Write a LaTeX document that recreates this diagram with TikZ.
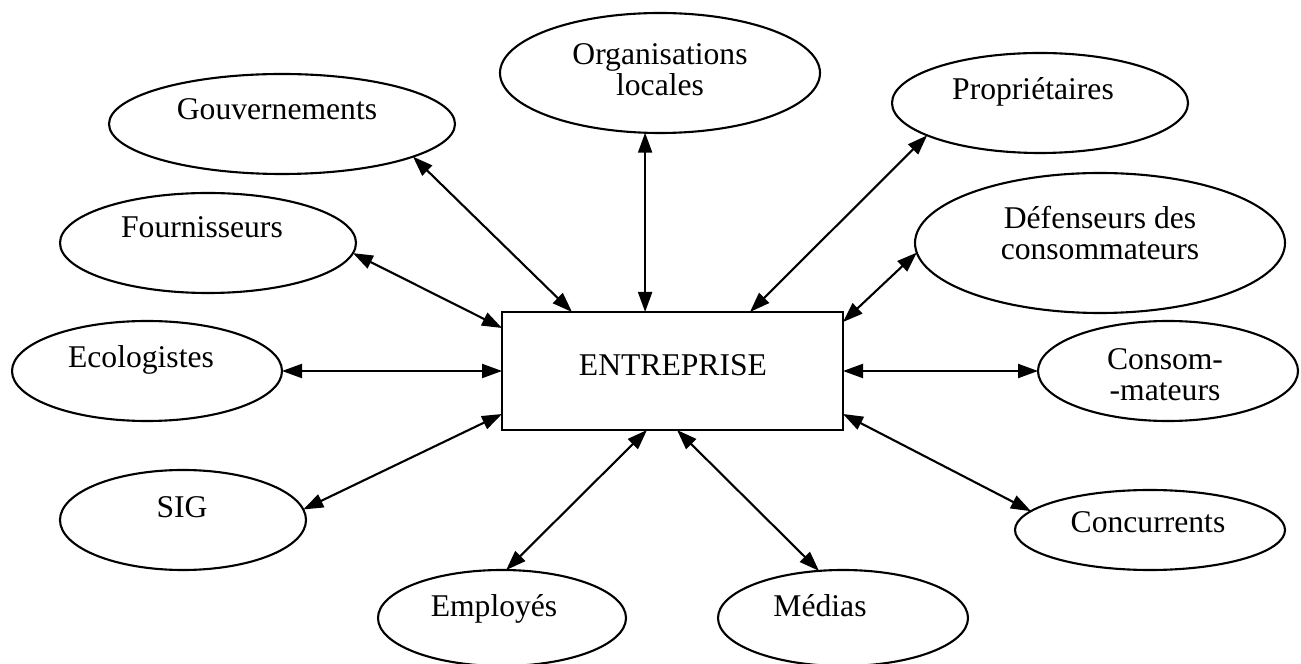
\documentclass[tikz,border=0pt]{standalone}
\usepackage{fontspec}
\setmainfont{Liberation Serif}
\usetikzlibrary{shapes.geometric, arrows.meta, calc}

\begin{document}
\begin{tikzpicture}[x=0.2mm, y=-0.2mm,
  party/.style={draw, ellipse, line width=1.2pt, inner sep=0pt, outer sep=0pt},
  word/.style={font=\fontsize{18}{17.5}\selectfont, align=center, inner sep=0pt},
  link/.style={{Triangle[length=4mm,width=2.8mm]}-{Triangle[length=4mm,width=2.8mm]}, line width=1.2pt}]
\useasboundingbox (0,0) rectangle (1301,664);

% the firm
\node[draw, rectangle, line width=1.2pt, outer sep=0pt, minimum width=6.82cm, minimum height=2.36cm] (firm) at (672.5,371) {};
\node[word, anchor=base] (firm-t) at (673,376) {ENTREPRISE};

% stakeholders
\node[party, minimum width=6.92cm, minimum height=2cm] (gouv) at (282,124) {};
\node[party, minimum width=5.92cm, minimum height=2cm] (fourn) at (208,243) {};
\node[party, minimum width=6.4cm, minimum height=2.4cm] (org) at (660,73) {};
\node[party, minimum width=5.92cm, minimum height=2cm] (prop) at (1040,103) {};
\node[party, minimum width=7.4cm, minimum height=2.8cm] (def) at (1100,243) {};
\node[party, minimum width=5.4cm, minimum height=2cm] (eco) at (147,371) {};
\node[party, minimum width=5.2cm, minimum height=2cm] (consom) at (1168,371) {};
\node[party, minimum width=4.92cm, minimum height=2cm] (sig) at (183,520) {};
\node[party, minimum width=5.4cm, minimum height=1.6cm] (conc) at (1150,530) {};
\node[party, minimum width=4.96cm, minimum height=1.92cm] (emp) at (502,618) {};
\node[party, minimum width=5cm, minimum height=1.92cm] (med) at (843,618) {};

% their names
\node[word, anchor=base] (gouv-t) at (277,120) {Gouvernements};
\node[word, anchor=base] (fourn-t) at (202,238) {Fournisseurs};
\node[word] (org-t) at (660,70) {Organisations\\locales};
\node[word, anchor=base] (prop-t) at (1033,100) {Propriétaires};
\node[word] (def-t) at (1100,233) {Défenseurs des\\consommateurs};
\node[word, anchor=base] (eco-t) at (141,368) {Ecologistes};
\node[word] (consom-t) at (1165,375) {Consom-\\-mateurs};
\node[word, anchor=base] (sig-t) at (182,518) {SIG};
\node[word, anchor=base] (conc-t) at (1148,533) {Concurrents};
\node[word, anchor=base] (emp-t) at (494,616) {Employés};
\node[word, anchor=base] (med-t) at (820,616) {Médias};

% relations
\draw[link] (gouv.-14) -- ($(firm.north west)+(70,0)$);
\draw[link] (fourn.-4) -- ($(firm.north west)+(0,16)$);
\draw[link] (org.-104) -- (org.-104 |- firm.north);
\draw[link] (prop.196) -- ($(firm.north west)+(248,0)$);
\draw[link] (def.183) -- ($(firm.north east)+(0,10)$);
\draw[link] (eco.east) -- (firm.west);
\draw[link] (firm.east) -- (consom.west);
\draw[link] (sig.5) -- ($(firm.south west)+(0,-16)$);
\draw[link] (emp.85) -- ($(firm.south west)+(145,0)$);
\draw[link] (med.117) -- ($(firm.south west)+(175,0)$);
\draw[link] (conc.171) -- ($(firm.south east)+(0,-16)$);
\end{tikzpicture}
\end{document}
